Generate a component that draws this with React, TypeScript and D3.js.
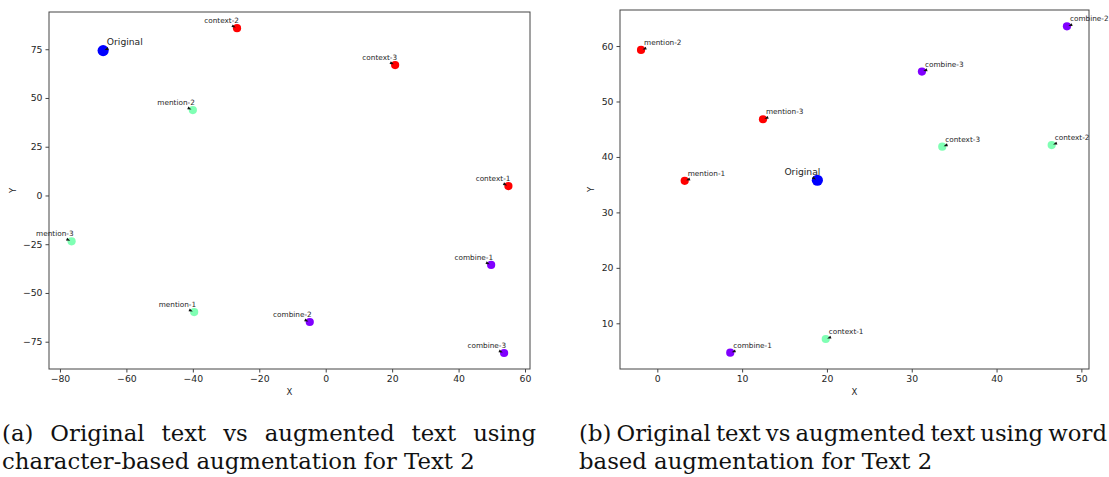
import React, { useEffect, useRef } from "react";
import * as d3 from "d3";

// ---- data ----
const pointLabels = ["Original", "context-1", "context-2", "context-3", "mention-1", "mention-2", "mention-3", "combine-1", "combine-2", "combine-3"];
const pointGroups = ["original", "context", "context", "context", "mention", "mention", "mention", "combine", "combine", "combine"];

// (a) character-based augmentation
const charX = [-67.0, 55.0, -26.7, 20.9, -39.6, -40.0, -76.5, 49.8, -4.8, 53.7];
const charY = [74.3, 4.8, 85.8, 66.9, -59.8, 43.8, -23.5, -35.6, -64.9, -80.8];
const charXTicks = [-80, -60, -40, -20, 0, 20, 40, 60];
const charYTicks = [-75, -50, -25, 0, 25, 50, 75];

// (b) word-based augmentation
const wordX = [18.87, 19.86, 46.5, 33.6, 3.23, -1.92, 12.46, 8.6, 48.3, 31.2];
const wordY = [35.8, 7.17, 42.15, 41.85, 35.7, 59.3, 46.8, 4.7, 63.55, 55.4];
const wordXTicks = [0, 10, 20, 30, 40, 50];
const wordYTicks = [10, 20, 30, 40, 50, 60];

const captionA = ["(a) Original text vs augmented text using", "character-based augmentation for Text 2"];
const captionB = ["(b) Original text vs augmented text using word", "based augmentation for Text 2"];

const charColors: Record<string, string> = { original: "#0000ff", context: "#ff0000", mention: "#80ffb4", combine: "#8000ff" };
const wordColors: Record<string, string> = { original: "#0000ff", mention: "#ff0000", context: "#80ffb4", combine: "#8000ff" };

const W = 1109;
const H = 477;

const fmt = (v: number) => (v < 0 ? "\u2212" + Math.abs(v) : String(v));

export default function App() {
  const ref = useRef<SVGSVGElement | null>(null);

  useEffect(() => {
    const svg = d3.select(ref.current);
    svg.selectAll("*").remove();

    const panels = [
      {
        xs: charX, ys: charY, colors: charColors, xTicks: charXTicks, yTicks: charYTicks,
        xDomain: [-83.3, 61.5], yDomain: [-89, 94.1],
        box: { l: 49, r: 530, t: 12, b: 369 }, side: "left", yLabelX: 13,
      },
      {
        xs: wordX, ys: wordY, colors: wordColors, xTicks: wordXTicks, yTicks: wordYTicks,
        xDomain: [-4.4, 50.9], yDomain: [1.76, 66.5],
        box: { l: 620, r: 1089, t: 10, b: 369 }, side: "right", yLabelX: 591,
      },
    ];

    const textColor = "#262626";
    const frameColor = "#444";

    panels.forEach((p) => {
      const g = svg.append("g");
      const x = d3.scaleLinear().domain(p.xDomain).range([p.box.l, p.box.r]);
      const y = d3.scaleLinear().domain(p.yDomain).range([p.box.b, p.box.t]);

      const xa = g.append("g").attr("transform", `translate(0,${p.box.b})`)
        .call(d3.axisBottom(x).tickValues(p.xTicks).tickSize(3.5).tickPadding(3).tickFormat((d: any) => fmt(d)));
      const ya = g.append("g").attr("transform", `translate(${p.box.l},0)`)
        .call(d3.axisLeft(y).tickValues(p.yTicks).tickSize(3.5).tickPadding(3).tickFormat((d: any) => fmt(d)));
      [xa, ya].forEach((a) => {
        a.select(".domain").remove();
        a.selectAll("line").attr("stroke", frameColor);
        a.selectAll("text").attr("fill", textColor).style("font-family", "DejaVu Sans").style("font-size", "9.3px");
      });

      g.append("rect")
        .attr("x", p.box.l).attr("y", p.box.t)
        .attr("width", p.box.r - p.box.l).attr("height", p.box.b - p.box.t)
        .attr("fill", "none").attr("stroke", frameColor).attr("stroke-width", 1);

      // axis titles
      g.append("text").attr("x", (p.box.l + p.box.r) / 2).attr("y", 395)
        .attr("text-anchor", "middle").attr("fill", textColor)
        .style("font-family", "DejaVu Sans").style("font-size", "8.5px").text("X");
      g.append("text").attr("transform", `translate(${p.yLabelX + 3},${(p.box.t + p.box.b) / 2}) rotate(-90)`)
        .attr("text-anchor", "middle").attr("fill", textColor)
        .style("font-family", "DejaVu Sans").style("font-size", "8.5px").text("Y");

      // points
      const idx = d3.range(pointLabels.length);
      g.selectAll("circle.pt").data(idx).enter().append("circle")
        .attr("class", "pt")
        .attr("cx", (i) => x(p.xs[i])).attr("cy", (i) => y(p.ys[i]))
        .attr("r", (i) => (pointGroups[i] === "original" ? 5.6 : 4.1))
        .attr("fill", (i) => p.colors[pointGroups[i]]);

      // labels + arrows
      idx.forEach((i) => {
        const px = x(p.xs[i]);
        const py = y(p.ys[i]);
        const isOrig = pointGroups[i] === "original";
        const fs = isOrig ? 9.2 : 7.3;
        let anchor: string;
        let tx: number;
        if (p.side === "left") {
          anchor = isOrig ? "start" : "end";
          tx = isOrig ? px + 3.7 : px + 2;
        } else {
          anchor = isOrig ? "end" : "start";
          tx = px + 3;
        }
        const ty = isOrig ? py - 5.7 : py - 5;
        const t = g.append("text").attr("x", tx).attr("y", ty).attr("text-anchor", anchor)
          .attr("fill", textColor).style("font-family", "DejaVu Sans").style("font-size", fs + "px")
          .text(pointLabels[i]);
        const w = (t.node() as SVGTextElement).getComputedTextLength();
        const cx = anchor === "end" ? tx - w / 2 : tx + w / 2;
        const cy = ty - fs * 0.35;
        const dx = px - cx;
        const dy = py - cy;
        const len = Math.hypot(dx, dy) || 1;
        const ux = dx / len;
        const uy = dy / len;
        const tipX = px - ux * 1.5;
        const tipY = py - uy * 1.5;
        const baseX = tipX - ux * 4;
        const baseY = tipY - uy * 4;
        const nx = -uy * 1.5;
        const ny = ux * 1.5;
        g.append("path")
          .attr("d", `M${tipX},${tipY}L${baseX + nx},${baseY + ny}L${baseX - nx},${baseY - ny}Z`)
          .attr("fill", "#111");
      });
    });

    // captions
    const capFont = "DejaVu Serif";
    const probe = svg.append("text").style("font-family", capFont).style("font-size", "20px").text(captionA[1]);
    const natural = (probe.node() as SVGTextElement).getComputedTextLength();
    probe.remove();
    const capSize = 20 * 473 / natural;

    const captions = [
      { lines: captionA, x0: 2, x1: 536 },
      { lines: captionB, x0: 579, x1: 1107 },
    ];
    const baselines = [441, 469];

    captions.forEach((c) => {
      // justified first line
      const words = c.lines[0].split(" ");
      const nodes = words.map((wd) =>
        svg.append("text").attr("y", baselines[0]).attr("fill", "#111")
          .style("font-family", capFont).style("font-size", capSize + "px").text(wd)
      );
      const widths = nodes.map((n) => (n.node() as SVGTextElement).getComputedTextLength());
      const total = d3.sum(widths);
      const gap = (c.x1 - c.x0 - total) / (words.length - 1);
      let cur = c.x0;
      nodes.forEach((n, k) => {
        n.attr("x", cur);
        cur += widths[k] + gap;
      });
      // second line, natural spacing
      svg.append("text").attr("x", c.x0).attr("y", baselines[1]).attr("fill", "#111")
        .style("font-family", capFont).style("font-size", capSize + "px").text(c.lines[1]);
    });
  }, []);

  return (
    <svg
      ref={ref}
      width={W}
      height={H}
      style={{ position: "absolute", left: 0, top: 0, background: "#fff" }}
    />
  );
}
